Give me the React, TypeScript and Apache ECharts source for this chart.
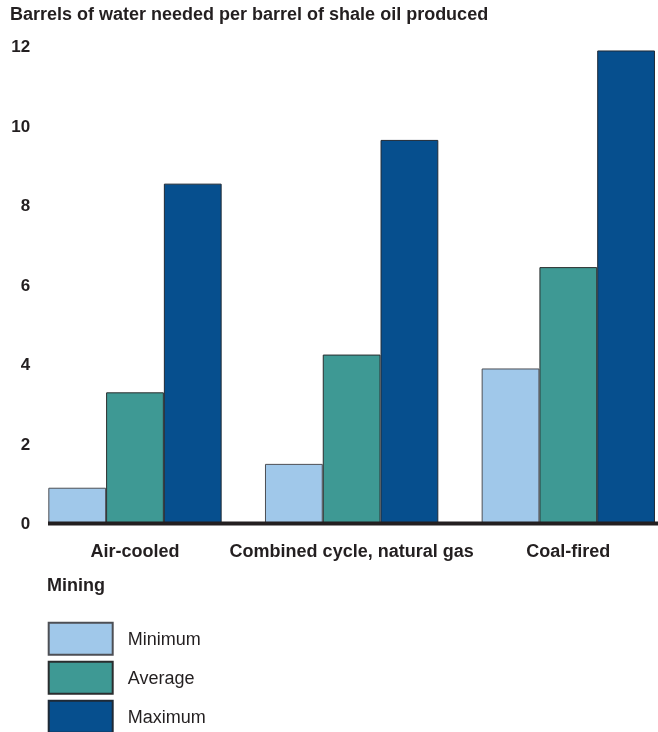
import React, { useEffect, useRef } from "react";
import * as echarts from "echarts";

const categories = ["Air-cooled", "Combined cycle, natural gas", "Coal-fired"];
const minimumValues = [0.9, 1.5, 3.9];
const averageValues = [3.3, 4.25, 6.45];
const maximumValues = [8.55, 9.65, 11.9];
const yTicks = [0, 2, 4, 6, 8, 10, 12];

const FONT = "'Liberation Sans', Arial, Helvetica, sans-serif";
const INK = "#231f20";

export default function App() {
  const ref = useRef<HTMLDivElement>(null);
  useEffect(() => {
    if (!ref.current) return;
    const chart = echarts.init(ref.current, undefined, { renderer: "svg" });
    const barStyle = (color: string, border: string) => ({
      color,
      borderColor: border,
      borderWidth: 1,
    });
    chart.setOption({
      animation: false,
      textStyle: { fontFamily: FONT },
      title: {
        text: "Barrels of water needed per barrel of shale oil produced",
        left: 10,
        top: 5,
        padding: 0,
        textStyle: { fontFamily: FONT, fontSize: 18, fontWeight: "bold", color: INK },
      },
      grid: {
        left: 26.65,
        top: 46.5,
        width: 650,
        height: 477,
        containLabel: false,
        outerBoundsMode: "none",
      },
      xAxis: {
        type: "category",
        data: categories,
        axisLine: { show: false },
        axisTick: { show: false },
        axisLabel: {
          margin: 18,
          fontFamily: FONT,
          fontSize: 18,
          fontWeight: "bold",
          color: INK,
          interval: 0,
        },
      },
      yAxis: {
        type: "value",
        min: yTicks[0],
        max: yTicks[yTicks.length - 1],
        interval: 2,
        splitLine: { show: false },
        axisLine: { show: false },
        axisTick: { show: false },
        axisLabel: {
          margin: -3.5,
          fontFamily: FONT,
          fontSize: 17,
          fontWeight: "bold",
          color: INK,
        },
      },
      legend: {
        orient: "vertical",
        left: 47.7,
        top: 621.7,
        height: 140,
        itemWidth: 64,
        itemHeight: 32,
        itemGap: 5,
        padding: 0,
        icon: "rect",
        textStyle: { fontFamily: FONT, fontSize: 18, color: INK, padding: [6, 0, 0, 10] },
        data: ["Minimum", "Average", "Maximum"],
      },
      series: [
        {
          name: "Minimum",
          type: "bar",
          data: minimumValues,
          barGap: "0%",
          barCategoryGap: "20%",
          itemStyle: barStyle("#a0c8ea", "#4d4f55"),
        },
        {
          name: "Average",
          type: "bar",
          data: averageValues,
          barGap: "0%",
          barCategoryGap: "20%",
          itemStyle: barStyle("#3e9994", "#2a2d2e"),
        },
        {
          name: "Maximum",
          type: "bar",
          data: maximumValues,
          barGap: "0%",
          barCategoryGap: "20%",
          itemStyle: barStyle("#064f8e", "#1f2a36"),
        },
      ],
      graphic: [
        {
          type: "line",
          shape: { x1: 48, y1: 523.5, x2: 658, y2: 523.5 },
          style: { stroke: INK, lineWidth: 4 },
          z: 100,
        },
        {
          type: "text",
          left: 47,
          top: 576,
          style: { text: "Mining", fontFamily: FONT, fontSize: 18, fontWeight: "bold", fill: INK },
        },
      ],
    });
    return () => chart.dispose();
  }, []);
  return (
    <div
      ref={ref}
      style={{ position: "fixed", left: 0, top: 0, width: 658, height: 732 }}
    />
  );
}
